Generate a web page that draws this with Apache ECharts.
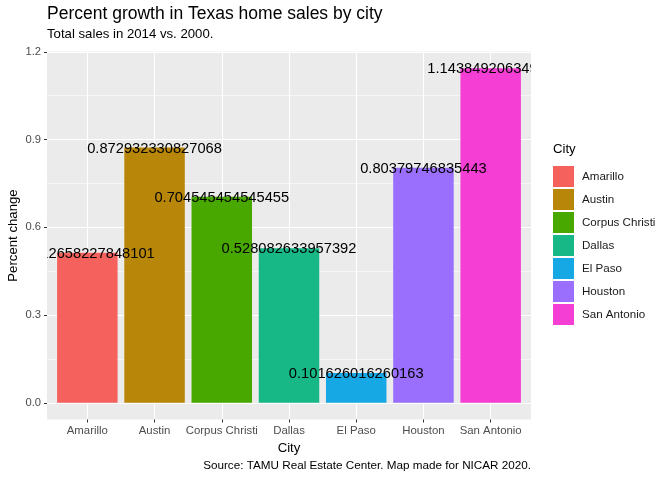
<!DOCTYPE html>
<html>
<head>
<meta charset="utf-8">
<script src="https://cdn.jsdelivr.net/npm/echarts@6/dist/echarts.min.js"></script>
<style>
  html, body { margin: 0; padding: 0; background: #fff; }
  #chart { width: 672px; height: 480px; }
</style>
</head>
<body>
<div id="chart"></div>
<script>
  // data
  const cities = ['Amarillo', 'Austin', 'Corpus Christi', 'Dallas', 'El Paso', 'Houston', 'San Antonio']
  const growth = [0.512658227848101, 0.872932330827068, 0.704545454545455, 0.528082633957392,
    0.101626016260163, 0.80379746835443, 1.14384920634921]
  const yTicks = [0, 0.3, 0.6, 0.9, 1.2]
  const yMinor = [0.15, 0.45, 0.75, 1.05]
  const colors = ['#f5615c', '#b8870a', '#48a800', '#17b886', '#16a8e4', '#9a6ffd', '#f53fd4']

  const font = 'Liberation Sans, Arial, Helvetica, sans-serif'
  const xIdx = cities.map((c, i) => i)

  // ggplot style expansion of the scales
  const yMax = Math.max.apply(null, growth)
  const yLo = -yMax * 0.05
  const yHi = yMax * 1.05

  const series = cities.map((c, i) => ({
    name: c,
    type: 'bar',
    z: 5,
    barWidth: 60.5,
    barGap: '-100%',
    itemStyle: { color: colors[i] },
    label: {
      show: true,
      position: ['50%', 0],
      offset: [0, 1],
      align: 'center',
      verticalAlign: 'middle',
      color: '#000',
      fontSize: 14.7,
      fontFamily: font,
      formatter: p => String(p.value[1])
    },
    data: [[i, growth[i]]]
  }))

  // grid-line only axis
  function gridAxis(values, width) {
    return {
      type: 'value',
      min: yLo, max: yHi,
      z: 0,
      axisLine: { show: false, onZero: false },
      axisTick: { show: false, customValues: values },
      axisLabel: { show: false },
      splitLine: { show: true, lineStyle: { color: '#fff', width: width } }
    }
  }

  const chart = echarts.init(document.getElementById('chart'))
  chart.setOption({
    animation: false,
    color: colors,
    title: [
      {
        text: 'Percent growth in Texas home sales by city',
        left: 47, top: 5, padding: 0,
        textStyle: { fontFamily: font, fontSize: 17.5, fontWeight: 'normal', color: '#000' }
      },
      {
        text: 'Total sales in 2014 vs. 2000.',
        left: 47, top: 28, padding: 0,
        textStyle: { fontFamily: font, fontSize: 13.2, fontWeight: 'normal', color: '#000' }
      },
      {
        text: 'City',
        left: 553, top: 143, padding: 0,
        textStyle: { fontFamily: font, fontSize: 13.2, fontWeight: 'normal', color: '#000' }
      },
      {
        text: 'Source: TAMU Real Estate Center. Map made for NICAR 2020.',
        right: 141, top: 460, padding: 0,
        textStyle: { fontFamily: font, fontSize: 11.7, fontWeight: 'normal', color: '#000' }
      }
    ],
    legend: {
      orient: 'vertical',
      left: 553, top: 166, padding: 0,
      itemWidth: 21, itemHeight: 21, itemGap: 2,
      icon: 'rect',
      z: 80,
      textStyle: { fontFamily: font, fontSize: 11.6, color: '#1a1a1a', padding: [0, 0, 0, 3] },
      data: cities
    },
    grid: {
      left: 47, right: 141, top: 51.5, bottom: 60.5,
      containLabel: false,
      outerBoundsMode: 'none',
      show: true, backgroundColor: '#ebebeb', borderWidth: 0
    },
    xAxis: {
      type: 'value',
      min: -0.6, max: 6.6,
      z: 0,
      name: 'City',
      nameLocation: 'middle',
      nameGap: 20,
      nameTextStyle: { fontFamily: font, fontSize: 13.2, color: '#000' },
      axisLine: { show: false, onZero: false },
      axisTick: { show: true, length: 3, customValues: xIdx, lineStyle: { color: '#333', width: 1 } },
      axisLabel: {
        customValues: xIdx, margin: 6,
        fontFamily: font, fontSize: 11.4, color: '#4d4d4d',
        formatter: v => cities[Math.round(v)]
      },
      splitLine: { show: true, lineStyle: { color: '#fff', width: 1.1 } }
    },
    yAxis: [
      {
        // labels, ticks and name, kept above the masks
        type: 'value',
        min: yLo, max: yHi,
        z: 60,
        name: 'Percent change',
        nameLocation: 'middle',
        nameGap: 27,
        nameMoveOverlap: false,
        nameTextStyle: { fontFamily: font, fontSize: 13.2, color: '#000' },
        axisLine: { show: false, onZero: false },
        axisTick: { show: true, length: 3, customValues: yTicks, lineStyle: { color: '#333', width: 1 } },
        axisLabel: {
          customValues: yTicks, margin: 6,
          fontFamily: font, fontSize: 11.2, color: '#4d4d4d',
          formatter: v => v.toFixed(1)
        },
        splitLine: { show: false }
      },
      gridAxis(yTicks, 1.1),
      gridAxis(yMinor, 0.55)
    ],
    // white masks, labels are clipped at the panel edge like in ggplot
    graphic: [
      { type: 'rect', z: 50, shape: { x: 0, y: 45, width: 47, height: 372 }, style: { fill: '#fff' } },
      { type: 'rect', z: 50, shape: { x: 531, y: 45, width: 80, height: 80 }, style: { fill: '#fff' } }
    ],
    series: series
  })
</script>
</body>
</html>
